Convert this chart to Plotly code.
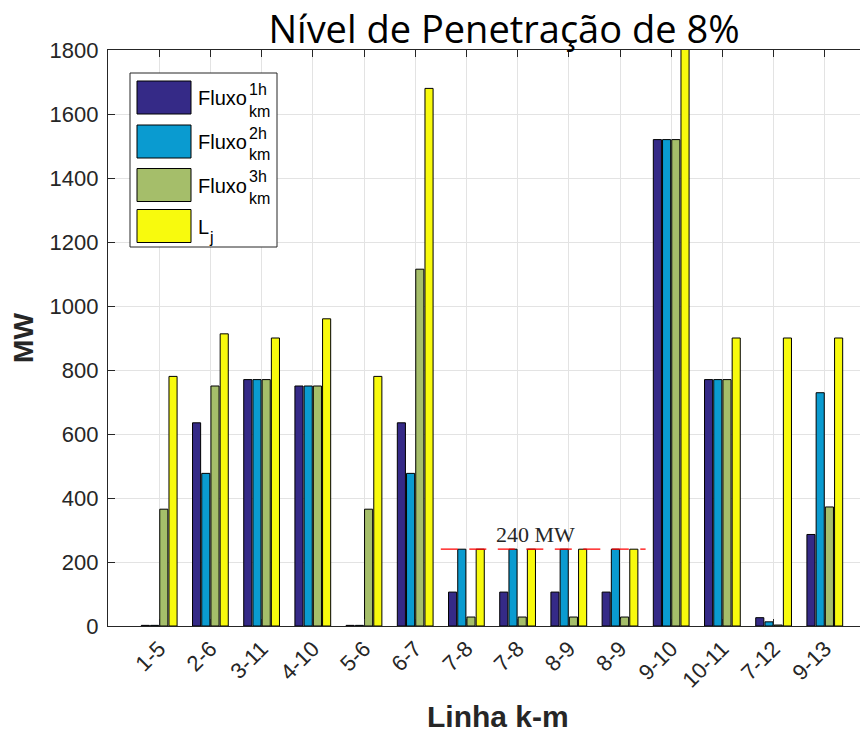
import plotly.graph_objects as go

# ---------------- data ----------------
categories = ["1-5", "2-6", "3-11", "4-10", "5-6", "6-7", "7-8", "7-8",
              "8-9", "8-9", "9-10", "10-11", "7-12", "9-13"]
fluxo_1h = [2, 635, 770, 750, 2, 635, 106, 106, 106, 106, 1520, 770, 26, 286]
fluxo_2h = [2, 477, 770, 750, 2, 477, 240, 240, 240, 240, 1520, 770, 13, 729]
fluxo_3h = [365, 750, 770, 750, 365, 1115, 28, 28, 28, 28, 1520, 770, 3, 372]
limite_lj = [780, 913, 900, 960, 780, 1680, 240, 240, 240, 240, 1900, 900, 900, 900]
series_names = ["Fluxo", "Fluxo", "Fluxo", "L"]
series_sup = ["1h", "2h", "3h", ""]
series_sub = ["km", "km", "km", "j"]
y_ticks = [0, 200, 400, 600, 800, 1000, 1200, 1400, 1600, 1800]
limit_value = 240
limit_label = "240 MW"
limit_span = [7, 10]   # first and last category (1-based) with the limit line
title_text = "Nível de Penetração de 8%"
x_title = "Linha k-m"
y_title = "MW"

colors = ["#352a87", "#0a9bd0", "#a5be6a", "#f8fa0d"]

OFF = 8                       # page body margin of the html page
W, H = 868 - OFF, 734 - OFF
ML, MR, MT, MB = 108 - OFF, 0, 50 - OFF, 108
PW, PH = W - ML - MR, H - MT - MB
x_pos = list(range(1, len(categories) + 1))

fig = go.Figure()
for vals, name, col in zip([fluxo_1h, fluxo_2h, fluxo_3h, limite_lj],
                           ["Fluxo 1h", "Fluxo 2h", "Fluxo 3h", "Lj"], colors):
    fig.add_trace(go.Bar(x=x_pos, y=vals, name=name, marker_color=col,
                         marker_line_color="#000000", marker_line_width=1,
                         showlegend=False))

# helpers: page pixel -> paper coordinate
def px(x):
    return (x - OFF - ML) / PW

def py(y):
    return (MT + PH - (y - OFF)) / PH

shapes = []
annotations = []

# 240 MW dashed limit line
shapes.append(dict(type="line", xref="x", yref="y",
                   x0=limit_span[0] - 0.5, x1=limit_span[1] + 0.5,
                   y0=limit_value, y1=limit_value,
                   line=dict(color="#ff0000", width=1.3, dash="17px,11.5px"),
                   layer="above"))
annotations.append(dict(xref="x", yref="y", x=8.34, y=limit_value,
                        text=limit_label, showarrow=False,
                        xanchor="center", yanchor="bottom", yshift=0,
                        font=dict(family="Liberation Serif, DejaVu Serif, serif",
                                  size=22, color="#262626")))

# manual legend (large swatches like the reference)
shapes.append(dict(type="rect", xref="paper", yref="paper",
                   x0=px(130), x1=px(277), y0=py(247), y1=py(73),
                   fillcolor="white", line=dict(color="#262626", width=1),
                   layer="above"))
row_top = [81, 125, 168.5, 209.5]
for i in range(4):
    t = row_top[i]
    shapes.append(dict(type="rect", xref="paper", yref="paper",
                       x0=px(137), x1=px(191), y0=py(t + 33), y1=py(t),
                       fillcolor=colors[i], line=dict(color="#000000", width=1),
                       layer="above"))
    cy = t + 17
    annotations.append(dict(xref="paper", yref="paper", x=px(196), y=py(cy),
                            text=series_names[i], showarrow=False,
                            xanchor="left", yanchor="middle",
                            font=dict(family="Liberation Sans, Arial", size=20,
                                      color="#000000")))
    if series_sup[i]:
        annotations.append(dict(xref="paper", yref="paper", x=px(247), y=py(cy - 9),
                                text=series_sup[i], showarrow=False,
                                xanchor="left", yanchor="middle",
                                font=dict(family="Liberation Sans, Arial", size=16,
                                          color="#000000")))
        annotations.append(dict(xref="paper", yref="paper", x=px(247), y=py(cy + 13),
                                text=series_sub[i], showarrow=False,
                                xanchor="left", yanchor="middle",
                                font=dict(family="Liberation Sans, Arial", size=16,
                                          color="#000000")))
    else:
        annotations.append(dict(xref="paper", yref="paper", x=px(207), y=py(cy + 11),
                                text=series_sub[i], showarrow=False,
                                xanchor="left", yanchor="middle",
                                font=dict(family="Liberation Sans, Arial", size=16,
                                          color="#000000")))

# x axis title
annotations.append(dict(xref="paper", yref="paper", x=px(498), y=py(716),
                        text="<b>" + x_title + "</b>", showarrow=False,
                        xanchor="center", yanchor="middle",
                        font=dict(family="Liberation Sans, Arial", size=30,
                                  color="#262626")))

fig.update_layout(
    width=W, height=H,
    margin=dict(l=ML, r=MR, t=MT, b=MB, pad=0),
    paper_bgcolor="white", plot_bgcolor="white",
    barmode="group", bargap=0.28, bargroupgap=0.12,
    title=dict(text=title_text, x=(504 - OFF) / W, xanchor="center", xref="container",
               y=1 - (30 - OFF) / H, yanchor="middle", yref="container",
               font=dict(family="Open Sans, Noto Sans", size=38, color="#000000")),
    shapes=shapes, annotations=annotations,
    xaxis=dict(range=[0, PW / 51.2], tickmode="array", tickvals=x_pos,
               ticktext=categories, tickangle=-45,
               tickfont=dict(family="Liberation Sans, Arial", size=22, color="#262626"),
               showgrid=True, gridcolor="#e3e3e3", gridwidth=1,
               showline=True, linecolor="#262626", linewidth=1.2,
               ticks="inside", ticklen=7, tickcolor="#262626",
               mirror="ticks", zeroline=False),
    yaxis=dict(range=[0, 1800], tickmode="array", tickvals=y_ticks,
               tickfont=dict(family="Liberation Sans, Arial", size=22, color="#262626"),
               showgrid=True, gridcolor="#e3e3e3", gridwidth=1,
               showline=True, linecolor="#262626", linewidth=1.2,
               ticks="inside", ticklen=7, tickcolor="#262626",
               ticklabelstandoff=4, zeroline=False,
               title=dict(text="<b>" + y_title + "</b>", standoff=7,
                          font=dict(family="Liberation Sans, Arial", size=28,
                                    color="#262626"))),
)

fig.write_html("out.html")
